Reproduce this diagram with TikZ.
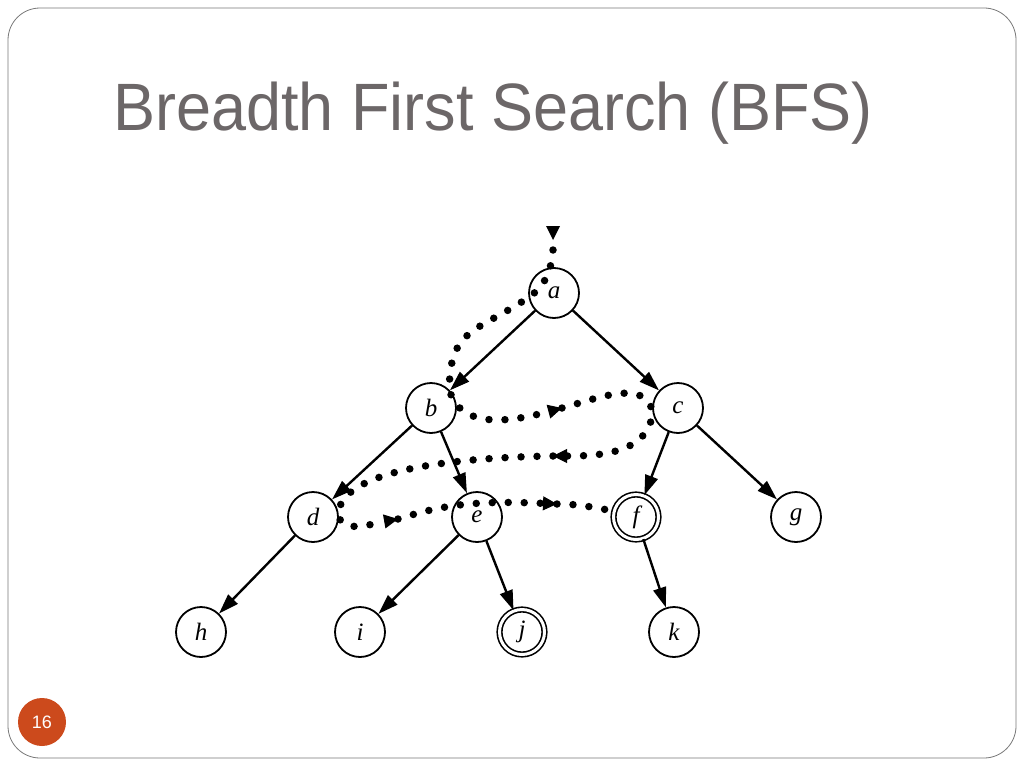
\documentclass[tikz,border=0pt]{standalone}
\usepackage{fontspec}
\setmainfont{Liberation Serif}
\newfontfamily\titlefont[FakeStretch=0.94]{Liberation Sans}
\newfontfamily\numfont{Liberation Sans}
\usetikzlibrary{arrows.meta}
\definecolor{titlegray}{RGB}{108,103,104}
\definecolor{framegray}{RGB}{120,120,120}
\definecolor{pageorange}{RGB}{204,74,28}
\tikzset{
  vertex/.style={draw,circle,line width=1.8pt,minimum size=50pt,inner sep=0pt,
    font=\fontsize{25}{25}\selectfont\itshape},
  goal/.style={vertex,line width=1.6pt,double,double distance=3pt,minimum size=45pt},
  link/.style={line width=2.4pt,-{Triangle[length=20pt,width=13pt]}},
  trail/.style={line width=7.5pt,line cap=round,dash pattern=on 0pt off 16pt},
  trailtip/.style={trail,-{Triangle[length=14pt,width=14pt,line width=1pt]}}
}
\begin{document}
\begin{tikzpicture}[x=1pt,y=1pt]
\useasboundingbox (0,0) rectangle (1024,-768);
% slide
\draw[framegray,line width=0.8pt,rounded corners=32pt] (8,-8) rectangle (1016,-758);
\node[anchor=base west,text=titlegray,inner sep=0pt,font=\titlefont\fontsize{67}{67}\selectfont] (title) at (113,-130) {Breadth First Search (BFS)};
\node[circle,fill=pageorange,minimum size=48pt,inner sep=0pt,text=white,font=\numfont\fontsize{18}{18}\selectfont] (page) at (42,-722) {16};

% tree
\node[vertex] (a) at (554,-293) {a};
\node[vertex] (b) at (431,-408) {b};
\node[vertex] (c) at (678,-408) {c};
\node[vertex] (d) at (313,-517) {d};
\node[vertex] (e) at (477,-517) {e};
\node[goal] (f) at (636,-517) {f};
\node[vertex] (g) at (796,-517) {g};
\node[vertex] (h) at (201,-632) {h};
\node[vertex] (i) at (360,-632) {i};
\node[goal] (j) at (522,-632) {j};
\node[vertex] (k) at (674,-632) {k};
\foreach \u/\v in {a/b,a/c,b/d,b/e,c/f,c/g,d/h,e/i,e/j,f/k}
  \draw[link] (\u) -- (\v);

% search order
\coordinate (start) at (553,-250);
\coordinate (bc) at (562,-408);
\coordinate (cd) at (553,-456);
\coordinate (de) at (398,-519);
\coordinate (ef) at (557,-504);
\fill (start) ++(-7,24) -- ++(14,0) -- ++(-7,-14) -- cycle;
\draw[trailtip] (start) to[out=-95,in=35] (a.190) to[out=214,in=90,looseness=1.3] (b.45) to[out=-75,in=195] (bc);
\draw[trailtip] (bc) to[out=15,in=100] (c.190) to[out=-95,in=0] (cd);
\draw[trailtip] (cd) .. controls (430,-458) and (342,-475) .. (d.10) to[out=-90,in=190] (de);
\draw[trailtip] (de) .. controls (440,-506) and (470,-500) .. (ef);
\draw[trail] (ef) to[out=0,in=170] (f.165);
\end{tikzpicture}
\end{document}
